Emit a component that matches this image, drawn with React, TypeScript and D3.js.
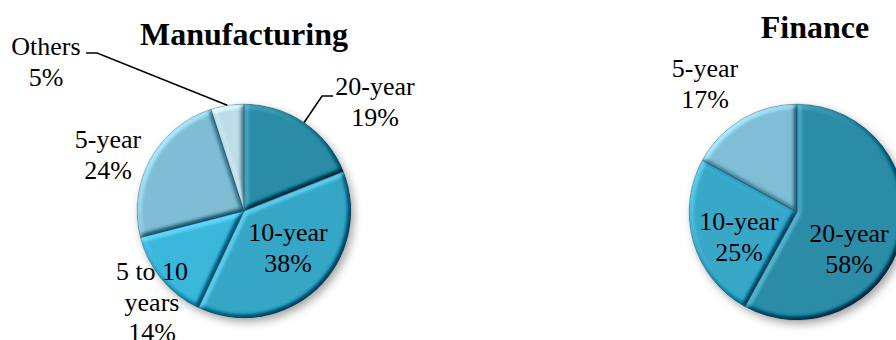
import React from "react";
import * as d3 from "d3";

// ---- data ----
const manufacturingCategories = ["20-year", "10-year", "5 to 10 years", "5-year", "Others"];
const manufacturingValues = [19, 38, 14, 24, 5];
const financeCategories = ["20-year", "10-year", "5-year"];
const financeValues = [58, 25, 17];

// ---- layout / style ----
const W = 896;
const H = 340;
const FONT = "'Liberation Serif', 'Times New Roman', serif";
const LINE = 30.5;

const manufacturingColors = ["#2b8ca6", "#35a6c6", "#3bb7db", "#7ebdd4", "#bcdce8"];
const financeColors = ["#2b8ca7", "#37a8c9", "#80bed5"];

type LabelCfg = { dx: number; dy: number; lines: string[]; leader?: "left" | "right" };

interface PieCfg {
  title: string;
  titleX: number;
  titleY: number;
  cx: number;
  cy: number;
  r: number;
  categories: string[];
  values: number[];
  colors: string[];
  labels: LabelCfg[];
}

const pies: PieCfg[] = [
  {
    title: "Manufacturing",
    titleX: 244,
    titleY: 45,
    cx: 244,
    cy: 211,
    r: 107,
    categories: manufacturingCategories,
    values: manufacturingValues,
    colors: manufacturingColors,
    labels: [
      { dx: 131, dy: -116, lines: ["20-year"], leader: "left" },
      { dx: 44, dy: 30, lines: ["10-year"] },
      { dx: -92, dy: 69, lines: ["5 to 10", "years"] },
      { dx: -136, dy: -63, lines: ["5-year"] },
      { dx: -198, dy: -156, lines: ["Others"], leader: "right" },
    ],
  },
  {
    title: "Finance",
    titleX: 815,
    titleY: 38,
    cx: 797,
    cy: 212,
    r: 108,
    categories: financeCategories,
    values: financeValues,
    colors: financeColors,
    labels: [
      { dx: 52, dy: 30, lines: ["20-year"] },
      { dx: -58, dy: 18, lines: ["10-year"] },
      { dx: -92, dy: -135, lines: ["5-year"] },
    ],
  },
];

function measure(text: string, size: number) {
  // approximate Times widths
  return text.length * size * 0.45;
}

function PieChart({ cfg }: { cfg: PieCfg }) {
  const total = d3.sum(cfg.values);
  const arcs = d3
    .pie<number>()
    .sort(null)
    .value((d) => d)(cfg.values);
  const arcGen = d3.arc<d3.PieArcDatum<number>>().innerRadius(0).outerRadius(cfg.r);

  return (
    <g>
      <text
        x={cfg.titleX}
        y={cfg.titleY}
        textAnchor="middle"
        fontFamily={FONT}
        fontWeight="bold"
        fontSize={32}
        fill="#000"
      >
        {cfg.title}
      </text>
      <g transform={`translate(${cfg.cx},${cfg.cy})`} filter="url(#pieShadow)">
        {arcs.map((a, i) => (
          <path key={i} d={arcGen(a) || ""} fill={cfg.colors[i]} filter="url(#bevel)" />
        ))}
        {arcs.map((a, i) => (
          <path
            key={"s" + i}
            d={arcGen(a) || ""}
            fill="none"
            stroke="rgba(20,60,75,0.35)"
            strokeWidth={0.8}
          />
        ))}
      </g>
      {arcs.map((a, i) => {
        const lab = cfg.labels[i];
        const x = cfg.cx + lab.dx;
        const y = cfg.cy + lab.dy;
        const pct = Math.round((cfg.values[i] / total) * 100) + "%";
        const lines = [...lab.lines, pct];
        let leader: React.ReactNode = null;
        if (lab.leader) {
          const mid = (a.startAngle + a.endAngle) / 2;
          const ex = cfg.cx + Math.sin(mid) * cfg.r;
          const ey = cfg.cy - Math.cos(mid) * cfg.r;
          const halfW = measure(lab.lines[0], 26) / 2;
          if (lab.leader === "left") {
            const sx = x - halfW - 1;
            const sy = y + 1;
            const kx = sx - 11;
            leader = (
              <polyline
                points={`${sx},${sy} ${kx},${sy} ${ex},${ey}`}
                fill="none"
                stroke="#000"
                strokeWidth={1.6}
              />
            );
          } else {
            const sx = x + halfW + 5;
            const sy = y - 2;
            const kx = sx + 11;
            leader = (
              <polyline
                points={`${sx},${sy} ${kx},${sy} ${ex},${ey}`}
                fill="none"
                stroke="#000"
                strokeWidth={1.6}
              />
            );
          }
        }
        return (
          <g key={"l" + i}>
            {leader}
            <text x={x} y={y} textAnchor="middle" fontFamily={FONT} fontSize={26} fill="#000">
              {lines.map((ln, j) => (
                <tspan key={j} x={x} y={y + j * LINE}>
                  {ln}
                </tspan>
              ))}
            </text>
          </g>
        );
      })}
    </g>
  );
}

export default function App() {
  return (
    <svg
      width={W}
      height={H}
      viewBox={`0 0 ${W} ${H}`}
      style={{ position: "absolute", left: 0, top: 0, display: "block", background: "#fff" }}
    >
      <defs>
        <filter id="bevel" x="-5%" y="-5%" width="110%" height="110%" colorInterpolationFilters="sRGB">
          <feGaussianBlur in="SourceAlpha" stdDeviation="2.5" result="b" />
          <feDiffuseLighting in="b" surfaceScale="4" diffuseConstant="1" lightingColor="#ffffff" result="d">
            <feDistantLight azimuth="225" elevation="45" />
          </feDiffuseLighting>
          <feComposite in="SourceGraphic" in2="d" operator="arithmetic" k1="0" k2="1" k3="0.55" k4="-0.39" result="lit" />
          <feComposite in="lit" in2="SourceAlpha" operator="in" />
        </filter>
        <filter id="pieShadow" x="-20%" y="-20%" width="140%" height="140%">
          <feDropShadow dx="3" dy="4" stdDeviation="4" floodColor="#000" floodOpacity="0.35" />
        </filter>
      </defs>
      <rect x={0} y={0} width={W} height={H} fill="#fff" />
      {pies.map((p, i) => (
        <PieChart key={i} cfg={p} />
      ))}
    </svg>
  );
}
